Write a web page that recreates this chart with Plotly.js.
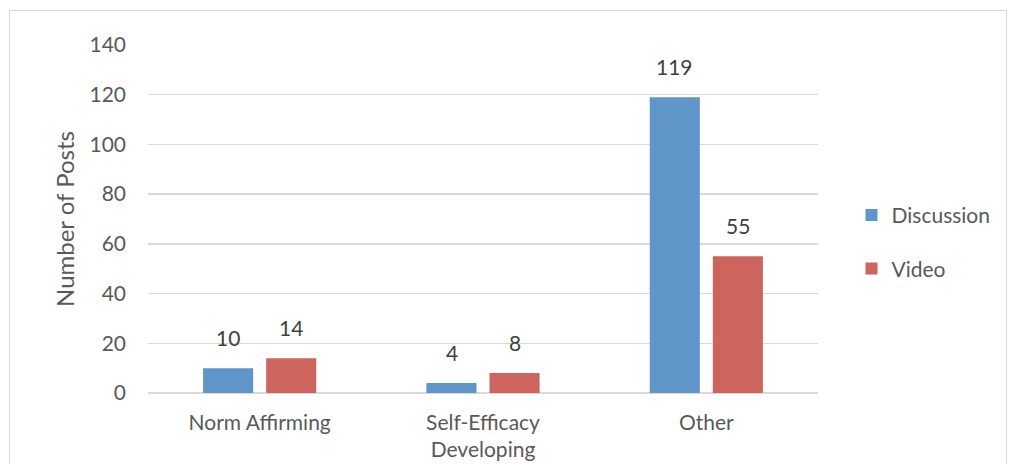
<!DOCTYPE html>
<html><head><meta charset="utf-8">
<script src="https://cdn.plot.ly/plotly-3.0.1.min.js"></script>
<style>
body{margin:0;background:#fff;}
#frame{position:absolute;left:9px;top:10px;width:998px;height:470px;border:1px solid #d9d9d9;box-sizing:border-box;}
#chart{position:absolute;left:0;top:0;width:1011px;height:464px;}
</style></head>
<body><div id="frame"></div><div id="chart"></div>
<script>
const categories = ["Norm Affirming", "Self-Efficacy<br>Developing", "Other"];
const discussion = [10, 4, 119];
const video = [14, 8, 55];
const yTicks = [0, 20, 40, 60, 80, 100, 120, 140];

const FONT = "Lato, Open Sans, sans-serif";
const traces = [
  {type: "bar", name: "Discussion", x: categories, y: discussion, marker: {color: "#5f95c9"},
   legendgroup: "a"},
  {type: "bar", name: "Video", x: categories, y: video, marker: {color: "#cd645d"},
   legendgroup: "b"}
];
// data labels above each bar, taken from the same arrays
const annotations = [];
[[discussion, -31.5], [video, 31.5]].forEach(([vals, dx]) => {
  vals.forEach((v, i) => annotations.push({
    x: categories[i], y: v, xref: "x", yref: "y", text: String(v), showarrow: false,
    xshift: dx, yshift: 16, yanchor: "bottom", font: {family: FONT, size: 21, color: "#404040"}
  }));
});
const layout = {
  width: 1011, height: 464,
  margin: {l: 148, r: 193, t: 45, b: 71},
  paper_bgcolor: "rgba(0,0,0,0)", plot_bgcolor: "rgba(0,0,0,0)",
  font: {family: FONT, size: 21, color: "#595959"},
  barmode: "group", bargap: 0.435, bargroupgap: 0.206,
  annotations: annotations,
  xaxis: {automargin: false, tickfont: {size: 21, color: "#595959"}, showline: false, ticks: "", ticklabelstandoff: 15},
  yaxis: {automargin: false, range: [0, 140], tickvals: yTicks, showgrid: true, gridcolor: "#d9d9d9", gridwidth: 1.3,
          zeroline: true, zerolinecolor: "#d9d9d9", zerolinewidth: 1.5,
          tickfont: {size: 21, color: "#595959"}, ticklabelstandoff: 21,
          title: {text: "Number of Posts", font: {size: 24, color: "#595959"}, standoff: 8}},
  legend: {x: 1.05, y: 0.434, xanchor: "left", yanchor: "middle", traceorder: "grouped",
           tracegroupgap: 23, font: {size: 21, color: "#595959"}, itemwidth: 30},
  showlegend: true
};
Plotly.newPlot("chart", traces, layout, {displayModeBar: false, staticPlot: true});
</script></body></html>
